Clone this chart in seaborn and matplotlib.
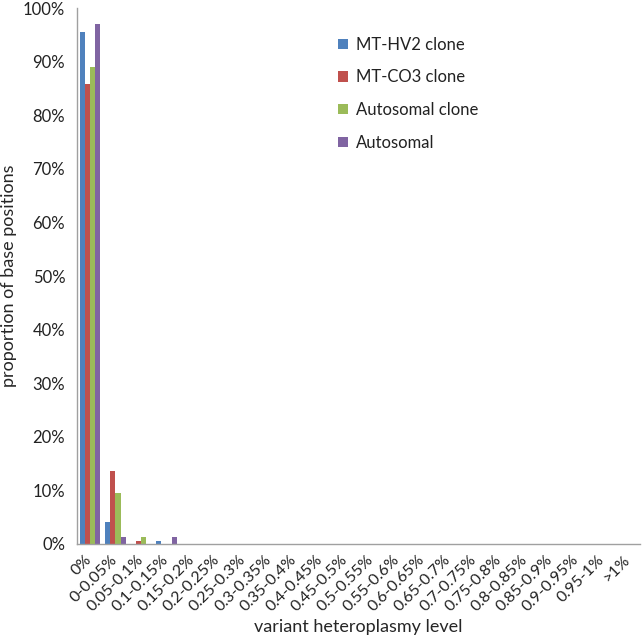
import numpy as np
import pandas as pd
import matplotlib
matplotlib.use("Agg")
import matplotlib.pyplot as plt
import seaborn as sns
from matplotlib.ticker import PercentFormatter, FixedLocator

# bins of heteroplasmy level
levels = ['0%', '0-0.05%', '0.05-0.1%', '0.1-0.15%', '0.15-0.2%', '0.2-0.25%',
          '0.25-0.3%', '0.3-0.35%', '0.35-0.4%', '0.4-0.45%', '0.45-0.5%',
          '0.5-0.55%', '0.55-0.6%', '0.6-0.65%', '0.65-0.7%', '0.7-0.75%',
          '0.75-0.8%', '0.8-0.85%', '0.85-0.9%', '0.9-0.95%', '0.95-1%', '>1%']

series = ['MT-HV2 clone', 'MT-CO3 clone', 'Autosomal clone', 'Autosomal']

# proportions (fraction of base positions)
mt_hv2 = [0.955, 0.041, 0.000, 0.006] + [0.0] * 18
mt_co3 = [0.858, 0.136, 0.006, 0.000] + [0.0] * 18
auto_clone = [0.890, 0.095, 0.013, 0.000] + [0.0] * 18
autosomal = [0.970, 0.013, 0.000, 0.013] + [0.0] * 18

colors = ['#4F81BD', '#C0504D', '#9BBB59', '#8064A2']

df = pd.DataFrame({
    'level': levels * 4,
    'series': np.repeat(series, len(levels)),
    'value': mt_hv2 + mt_co3 + auto_clone + autosomal,
})

sns.set_style('white')
plt.rcParams['font.family'] = ['Lato', 'DejaVu Sans']
plt.rcParams['text.color'] = '#222222'

fig = plt.figure(figsize=(6.42, 6.37), dpi=100)
ax = fig.add_axes([0.12, 0.146, 0.877, 0.841])

sns.barplot(data=df, x='level', y='value', hue='series', order=levels,
            hue_order=series, palette=colors, width=0.8, saturation=1,
            linewidth=0, ax=ax)

ax.set_xlim(-0.5, len(levels) - 0.5)
ax.set_ylim(0, 1.0)
ax.yaxis.set_major_locator(FixedLocator(np.arange(0, 1.01, 0.1)))
ax.yaxis.set_major_formatter(PercentFormatter(1.0, decimals=0))

# category labels centred, tick marks on the boundaries
ax.set_xticks(range(len(levels)))
ax.set_xticklabels(levels, rotation=45, ha='right', va='center',
                   rotation_mode='anchor', fontsize=11.5)
ax.set_xticks(np.arange(-0.5, len(levels), 1.0), minor=True)
ax.tick_params(axis='x', which='major', length=0, pad=10, labelcolor='#222222')
ax.tick_params(axis='x', which='minor', length=5, color='#a0a0a0', width=1)
ax.tick_params(axis='y', which='major', length=5, color='#a0a0a0', width=1,
               labelsize=12, labelcolor='#222222')

for s in ['top', 'right']:
    ax.spines[s].set_visible(False)
for s in ['left', 'bottom']:
    ax.spines[s].set_color('#a0a0a0')
    ax.spines[s].set_linewidth(1)

ax.set_xlabel('variant heteroplasmy level', fontsize=13)
ax.xaxis.label.set_va('baseline')
ax.xaxis.set_label_coords(0.5, -0.164)
ax.set_ylabel('proportion of base positions', fontsize=13, labelpad=4)

leg = ax.legend(loc='upper left', bbox_to_anchor=(0.437, 0.975), frameon=False,
                fontsize=12, handlelength=0.6, handleheight=0.6, handletextpad=0.45,
                labelspacing=1.0)

fig.savefig('out.png', dpi=100)
